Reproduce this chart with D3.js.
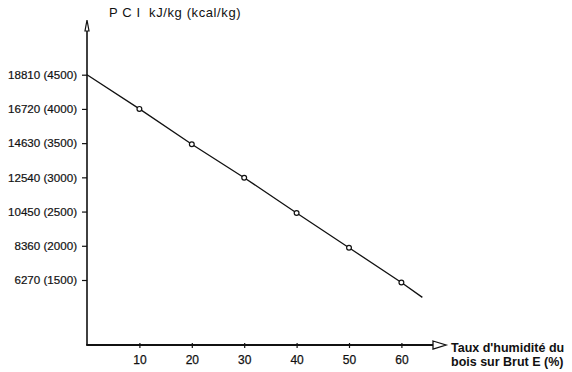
<!DOCTYPE html>
<html>
<head>
<meta charset="utf-8">
<script src="https://cdn.jsdelivr.net/npm/d3@7"></script>
<style>
    body { margin: 0; background: #fff; }
    text { font-family: 'Liberation Sans', Arial, sans-serif; fill: #111; }
</style>
</head>
<body>
<div id="chart"></div>
<script>
'use strict';

// valeurs (humidité % -> PCI kJ/kg)
var humidite = [0, 10, 20, 30, 40, 50, 60, 64]
var pci = [18810, 16720, 14560, 12520, 10360, 8240, 6120, 5210]
var marqueurs = [10, 20, 30, 40, 50, 60] // points avec un petit cercle

var yTicksKJ = [18810, 16720, 14630, 12540, 10450, 8360, 6270]
var yTicksKcal = [4500, 4000, 3500, 3000, 2500, 2000, 1500]
var xTicks = [10, 20, 30, 40, 50, 60]

var width = 572
var height = 372
var axeX = 87     // position de l'axe vertical
var axeY = 345    // position de l'axe horizontal
var hautAxe = 20
var finAxe = 433

var svg = d3.select('#chart').append('svg')
    .attr('width', width)
    .attr('height', height)

var x = d3.scaleLinear().domain([0, 60]).range([axeX, 401.4])
var y = d3.scaleLinear().domain([6270, 18810]).range([280, 74.7])

// axe vertical
var gy = svg.append('g')
    .attr('transform', 'translate(' + axeX + ',0)')
    .call(d3.axisLeft(y)
        .tickValues(yTicksKJ)
        .tickSize(5)
        .tickPadding(5)
        .tickFormat(function(d, i) { return d + ' (' + yTicksKcal[i] + ')' }))
gy.select('.domain').remove()
gy.selectAll('.tick line').attr('stroke', '#111').attr('stroke-width', 1.2)
gy.selectAll('.tick text')
    .style('font-size', '11.6px')
    .style('font-family', "'Liberation Sans', Arial, sans-serif")
    .attr('fill', '#111')
    .attr('stroke', '#111')
    .attr('stroke-width', 0.2)

// axe horizontal
var gx = svg.append('g')
    .attr('transform', 'translate(0,' + axeY + ')')
    .call(d3.axisBottom(x)
        .tickValues(xTicks)
        .tickSize(3)
        .tickPadding(7))
gx.select('.domain').remove()
gx.selectAll('.tick line').attr('stroke', '#111').attr('stroke-width', 1.2).attr('y1', -2)
gx.selectAll('.tick text')
    .style('font-size', '12px')
    .style('font-family', "'Liberation Sans', Arial, sans-serif")
    .attr('fill', '#111')
    .attr('stroke', '#111')
    .attr('stroke-width', 0.25)

svg.append('line')
    .attr('x1', axeX).attr('y1', axeY)
    .attr('x2', axeX).attr('y2', hautAxe + 10)
    .attr('stroke', '#111').attr('stroke-width', 1.6)
svg.append('line')
    .attr('x1', axeX - 0.8).attr('y1', axeY)
    .attr('x2', finAxe).attr('y2', axeY)
    .attr('stroke', '#111').attr('stroke-width', 1.8)

// flèches creuses
svg.append('path')
    .attr('d', 'M' + axeX + ',' + hautAxe + 'L' + (axeX - 2) + ',' + (hautAxe + 11) + 'L' + (axeX + 2) + ',' + (hautAxe + 11) + 'Z')
    .attr('fill', '#fff').attr('stroke', '#111').attr('stroke-width', 1.2)
svg.append('path')
    .attr('d', 'M' + finAxe + ',' + (axeY - 4) + 'L' + (finAxe + 13) + ',' + axeY + 'L' + finAxe + ',' + (axeY + 4) + 'Z')
    .attr('fill', '#fff').attr('stroke', '#111').attr('stroke-width', 1.3)

// courbe
var ligne = d3.line()
    .x(function(d) { return x(d[0]) })
    .y(function(d) { return y(d[1]) })

var pts = humidite.map(function(h, i) { return [h, pci[i]] })

svg.append('path')
    .datum(pts)
    .attr('d', ligne)
    .attr('fill', 'none')
    .attr('stroke', '#111')
    .attr('stroke-width', 1.3)

svg.selectAll('.pt')
    .data(pts.filter(function(d) { return marqueurs.indexOf(d[0]) >= 0 }))
    .enter().append('circle')
    .attr('class', 'pt')
    .attr('cx', function(d) { return x(d[0]) })
    .attr('cy', function(d) { return y(d[1]) })
    .attr('r', 2.4)
    .attr('fill', '#fff')
    .attr('stroke', '#111')
    .attr('stroke-width', 1.2)

// titres
svg.append('text')
    .attr('x', 109)
    .attr('y', 17)
    .style('font-size', '13px')
    .style('letter-spacing', '0.6px')
    .attr('xml:space', 'preserve')
    .text('P C I  kJ/kg (kcal/kg)')

var lab = svg.append('text')
    .attr('x', 451)
    .style('font-size', '12.5px')
    .style('font-weight', 'bold')
lab.append('tspan').attr('x', 451).attr('y', 352).text("Taux d'humidité du")
lab.append('tspan').attr('x', 451).attr('y', 366).text('bois sur Brut E (%)')
</script>
</body>
</html>
